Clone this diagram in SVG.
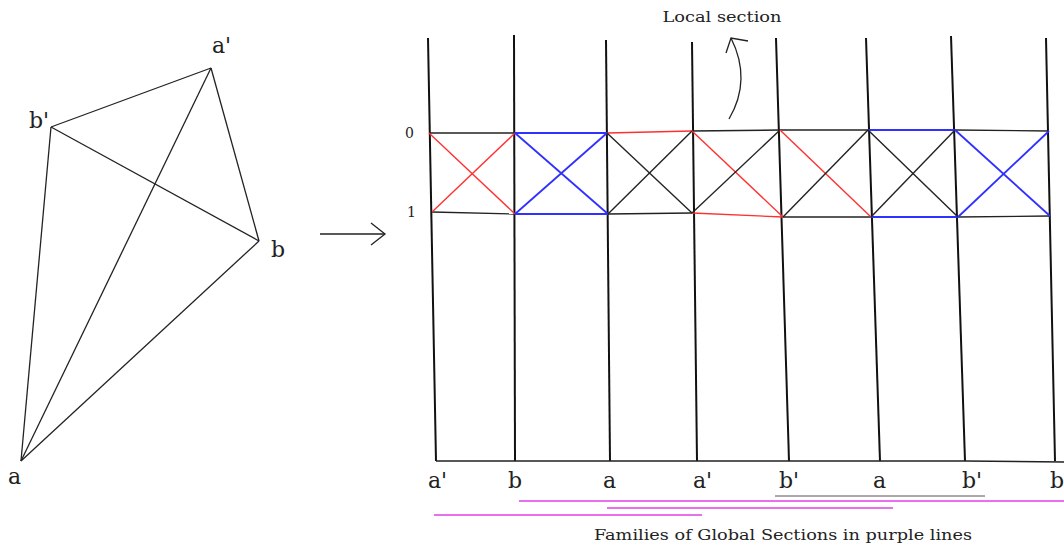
<svg xmlns="http://www.w3.org/2000/svg" width="1064" height="546" viewBox="0 0 1064 546">
<style>
.t{font-family:"DejaVu Serif","Liberation Serif",serif;fill:#222}
.lab{font-size:22px}
.thin{stroke:#222;stroke-width:1.3;fill:none}
.v{stroke:#111;stroke-width:2;fill:none}
.k{stroke:#222;stroke-width:1.4;fill:none}
.r{stroke:#ff3030;stroke-width:1.4;fill:none}
.b{stroke:#3030ff;stroke-width:1.8;fill:none}
.m{stroke:#e040e8;stroke-width:1.6;fill:none}
</style>
<rect width="1064" height="546" fill="#fff"/>
<g id="left-graph">
<g id="edges-left">
<line class="thin" x1="51" y1="127" x2="211" y2="68"/>
<line class="thin" x1="211" y1="68" x2="21" y2="461"/>
<line class="thin" x1="211" y1="68" x2="259" y2="241"/>
<line class="thin" x1="51" y1="127" x2="259" y2="241"/>
<line class="thin" x1="51" y1="127" x2="21" y2="461"/>
<line class="thin" x1="21" y1="461" x2="259" y2="241"/>
</g>
<g id="node-a-prime"><text class="t lab" x="212" y="53">a'</text></g>
<g id="node-b-prime"><text class="t lab" x="29" y="128">b'</text></g>
<g id="node-b"><text class="t lab" x="271" y="257">b</text></g>
<g id="node-a"><text class="t lab" x="8" y="484">a</text></g>
</g>
<g id="map-arrow">
<line class="thin" x1="320" y1="234" x2="385" y2="234"/>
<polyline class="thin" points="371,223 385,234 371,245"/>
</g>
<g id="verticals">
<line class="v" x1="428" y1="38" x2="436" y2="461"/>
<line class="v" x1="514" y1="35" x2="515" y2="461"/>
<line class="v" x1="606" y1="40" x2="610" y2="461"/>
<line class="v" x1="692" y1="42" x2="697" y2="461"/>
<line class="v" x1="776" y1="38" x2="789" y2="461"/>
<line class="v" x1="866" y1="38" x2="880" y2="461"/>
<line class="v" x1="951" y1="36" x2="965" y2="461"/>
<line class="v" x1="1046" y1="38" x2="1055" y2="461"/>
<polyline class="k" points="436,461 515,461 610,461 697,461 789,461 880,461 965,461 1064,462"/>
</g>
<g id="row-labels">
<text class="t" x="405" y="138" font-size="14">0</text>
<text class="t" x="407" y="217" font-size="14">1</text>
</g>
<g id="connectors">
<line class="k" x1="429" y1="133" x2="515" y2="133"/>
<line class="k" x1="432" y1="212" x2="515" y2="214"/>
<line class="r" x1="429" y1="133" x2="515" y2="214"/>
<line class="r" x1="432" y1="212" x2="515" y2="133"/>
<line class="b" x1="515" y1="133" x2="607" y2="133"/>
<line class="b" x1="515" y1="214" x2="608" y2="214"/>
<line class="b" x1="515" y1="133" x2="608" y2="214"/>
<line class="b" x1="515" y1="214" x2="607" y2="133"/>
<line class="r" x1="607" y1="133" x2="692" y2="131"/>
<line class="k" x1="608" y1="214" x2="692" y2="213"/>
<line class="k" x1="607" y1="133" x2="692" y2="213"/>
<line class="k" x1="608" y1="214" x2="692" y2="131"/>
<line class="k" x1="692" y1="131" x2="780" y2="130"/>
<line class="r" x1="692" y1="213" x2="783" y2="217"/>
<line class="r" x1="692" y1="131" x2="783" y2="217"/>
<line class="k" x1="692" y1="213" x2="780" y2="130"/>
<line class="k" x1="780" y1="130" x2="868" y2="130"/>
<line class="k" x1="783" y1="217" x2="871" y2="217"/>
<line class="r" x1="780" y1="130" x2="871" y2="217"/>
<line class="k" x1="783" y1="217" x2="868" y2="130"/>
<line class="b" x1="868" y1="130" x2="955" y2="130"/>
<line class="b" x1="871" y1="217" x2="958" y2="217"/>
<line class="k" x1="868" y1="130" x2="958" y2="217"/>
<line class="k" x1="871" y1="217" x2="955" y2="130"/>
<line class="k" x1="955" y1="130" x2="1049" y2="131"/>
<line class="k" x1="958" y1="217" x2="1050" y2="216"/>
<line class="b" x1="955" y1="130" x2="1050" y2="216"/>
<line class="b" x1="958" y1="217" x2="1049" y2="131"/>
</g>
<g id="local-section">
<text class="t" x="722" y="22" font-size="15.5" text-anchor="middle" textLength="119" lengthAdjust="spacingAndGlyphs">Local section</text>
<path class="thin" d="M729,119 Q752,80 731,38"/>
<polyline class="thin" points="726,53 731,38 748,41"/>
</g>
<g id="bottom-labels">
<text class="t lab" x="428" y="488">a'</text>
<text class="t lab" x="508" y="488">b</text>
<text class="t lab" x="603" y="488">a</text>
<text class="t lab" x="693" y="488">a'</text>
<text class="t lab" x="779" y="488">b'</text>
<text class="t lab" x="873" y="488">a</text>
<text class="t lab" x="962" y="488">b'</text>
<text class="t lab" x="1050" y="488">b</text>
</g>
<g id="global-sections">
<line stroke="#555" stroke-width="1" x1="775" y1="496" x2="985" y2="496"/>
<line class="m" x1="519" y1="501" x2="1064" y2="501"/>
<line class="m" x1="607" y1="508" x2="893" y2="508"/>
<line class="m" x1="434" y1="515" x2="702" y2="515"/>
<text class="t" x="783" y="540" font-size="15.5" text-anchor="middle" textLength="378" lengthAdjust="spacingAndGlyphs">Families of Global Sections in purple lines</text>
</g>
</svg>
